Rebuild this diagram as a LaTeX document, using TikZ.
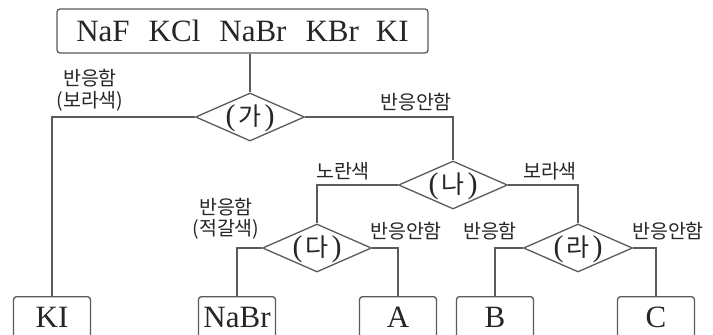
\documentclass[tikz,border=0pt]{standalone}
\usepackage{fontspec}
\usetikzlibrary{shapes.geometric}
\newfontfamily\lat{Liberation Serif}
\newfontfamily\kr{Noto Sans CJK KR}
\definecolor{linec}{HTML}{5A5A5A}
\definecolor{textc}{HTML}{262626}
\newcommand{\dlab}[1]{{\lat\fontsize{30}{30}\selectfont(}\hspace{3pt}{\kr\fontsize{25}{25}\selectfont #1}\hspace{3pt}{\lat\fontsize{30}{30}\selectfont)}}
\begin{document}
\begin{tikzpicture}[x=1pt,y=-1pt,
  conn/.style={draw=linec, line width=1.3},
  boxn/.style={draw=linec, line width=1.3, rounded corners=3, inner sep=0, text=textc,
    font=\lat\fontsize{31}{31}\selectfont},
  leaf/.style={boxn, minimum width=77, anchor=north, text height=20, text depth=40, inner ysep=11},
  dia/.style={diamond, draw=linec, line width=1.3, minimum width=109, minimum height=48, inner sep=0,
    label={[text=textc, inner sep=0, yshift=-1pt]center:\dlab{#1}}},
  lbl/.style={text=textc, inner sep=0, font=\kr\fontsize{19.5}{19.5}\selectfont}
]
\clip (0,0) rectangle (713,335);
\fill[white] (0,0) rectangle (713,335);
% top box
\node[boxn, minimum width=371, minimum height=44] (top) at (242.5,31)
  {NaF\hspace{19pt}KCl\hspace{19pt}NaBr\hspace{19pt}KBr\hspace{17pt}KI};
% diamonds
\node[dia={가}] (ga) at (250,117) {};
\node[dia={나}] (na) at (453,185) {};
\node[dia={다}] (da) at (317,248) {};
\node[dia={라}] (ra) at (578,248) {};
% leaves
\node[leaf] (ki) at (52,296) {KI};
\node[leaf] (nabr) at (237,296) {NaBr};
\node[leaf] (a) at (398,296) {A};
\node[leaf] (b) at (495,296) {B};
\node[leaf] (c) at (656,296) {C};
% connectors
\draw[conn] (ga.north |- top.south) -- (ga.north);
\draw[conn] (ga.west) -| (ki.north);
\draw[conn] (ga.east) -| (na.north);
\draw[conn] (na.west) -| (da.north);
\draw[conn] (na.east) -| (ra.north);
\draw[conn] (da.west) -| (nabr.north);
\draw[conn] (da.east) -| (a.north);
\draw[conn] (ra.west) -| (b.north);
\draw[conn] (ra.east) -| (c.north);
% labels
\node[lbl] (l1a) at (90,78) {반응함};
\node[lbl] (l1b) at (90,101) {(보라색)};
\node[lbl] (l2) at (416,102) {반응안함};
\node[lbl] (l3) at (343,171) {노란색};
\node[lbl] (l4) at (550,171) {보라색};
\node[lbl] (l5a) at (226,207) {반응함};
\node[lbl] (l5b) at (226,229) {(적갈색)};
\node[lbl] (l6) at (406,231) {반응안함};
\node[lbl] (l7) at (490,231) {반응함};
\node[lbl] (l8) at (668,231) {반응안함};
\end{tikzpicture}
\end{document}
